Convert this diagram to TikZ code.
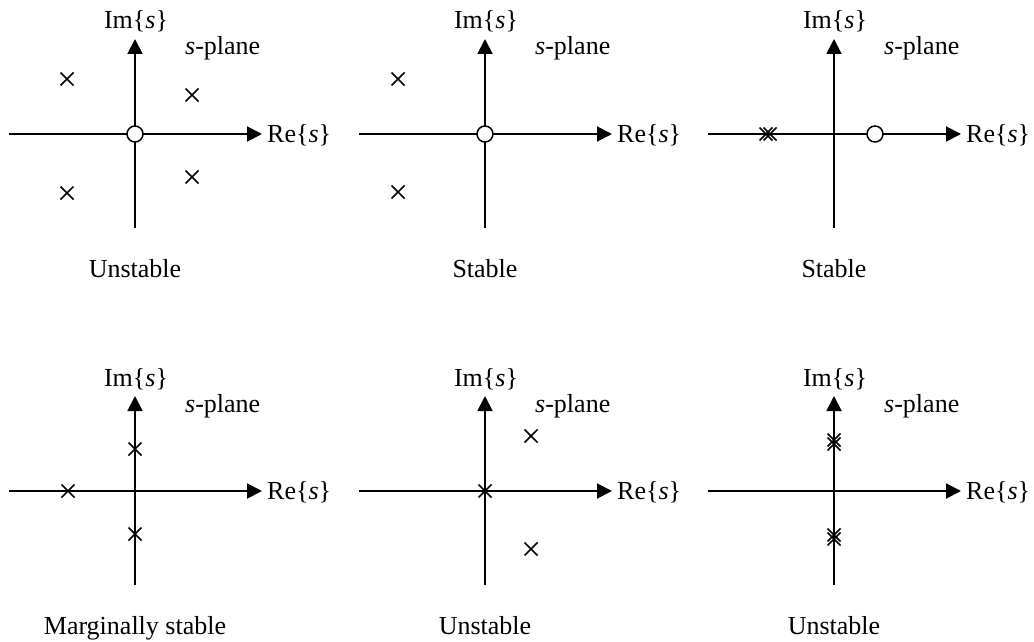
\documentclass[tikz,border=0pt]{standalone}
\usepackage{fontspec}
\setmainfont{Liberation Serif}
\usetikzlibrary{arrows.meta,shapes.misc}
\begin{document}
\begin{tikzpicture}[x=1pt,y=-1pt,
  axisline/.style={line width=1.9pt,-{Triangle[length=15pt,width=15pt]}},
  pole/.style={draw,cross out,minimum size=11.5pt,inner sep=0pt,line width=1.5pt},
  zero/.style={draw,circle,fill=white,minimum size=16pt,inner sep=0pt,line width=1.5pt},
  lbl/.style={font=\fontsize{26}{30}\selectfont,inner sep=0pt}]
\useasboundingbox (0,0) rectangle (1034,642);
\foreach \i/\cx/\cy/\cap in {1/135/134/Unstable,2/485/134/Stable,3/834/134/Stable,4/135/491/Marginally stable,5/485/491/Unstable,6/834/491/Unstable}{
  \coordinate (w\i) at (\cx-126,\cy);
  \coordinate (e\i) at (\cx+127,\cy);
  \coordinate (s\i) at (\cx,\cy+94);
  \coordinate (n\i) at (\cx,\cy-95);
  \draw[axisline] (w\i) -- (e\i);
  \draw[axisline] (s\i) -- (n\i);
  \node[lbl,anchor=base] (im\i) at (\cx+1,\cy-105) {Im\{\textit{s}\}};
  \node[lbl,anchor=base west] (re\i) at (\cx+132,\cy+8) {Re\{\textit{s}\}};
  \node[lbl,anchor=base west] (sp\i) at (\cx+50,\cy-79) {\textit{s}-plane};
  \node[lbl,anchor=base] (cap\i) at (\cx,\cy+143) {\cap};
}
% panel 1
\node[zero] (z1) at (135,134) {};
\node[pole] (p1a) at (67,79) {};
\node[pole] (p1b) at (192,95) {};
\node[pole] (p1c) at (192,177) {};
\node[pole] (p1d) at (67,193) {};
% panel 2
\node[zero] (z2) at (485,134) {};
\node[pole] (p2a) at (398,79) {};
\node[pole] (p2b) at (398,192) {};
% panel 3
\node[pole] (p3a) at (766,134) {};
\node[pole] (p3b) at (770,134) {};
\node[zero] (z3) at (875,134) {};
% panel 4
\node[pole] (p4a) at (135,449) {};
\node[pole] (p4b) at (135,534) {};
\node[pole] (p4c) at (68,491) {};
% panel 5
\node[pole] (p5a) at (485,491) {};
\node[pole] (p5b) at (531,436) {};
\node[pole] (p5c) at (531,549) {};
% panel 6
\node[pole] (p6a) at (834,440) {};
\node[pole] (p6b) at (834,444) {};
\node[pole] (p6c) at (834,535) {};
\node[pole] (p6d) at (834,539) {};
\end{tikzpicture}
\end{document}
